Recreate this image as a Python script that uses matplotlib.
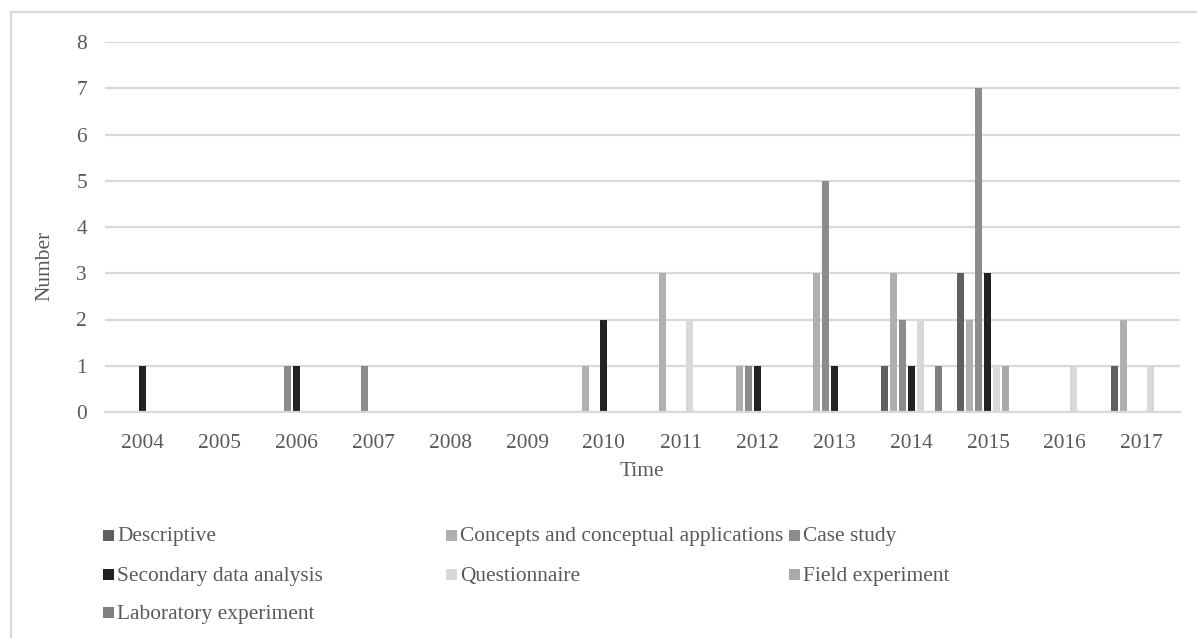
"""Grouped bar chart of study methods per year."""
import matplotlib.pyplot as plt
import numpy as np
from matplotlib.lines import Line2D
from matplotlib.patches import Rectangle

plt.rcParams["font.family"] = ["Liberation Serif", "DejaVu Serif"]

years = ["2004", "2005", "2006", "2007", "2008", "2009", "2010",
         "2011", "2012", "2013", "2014", "2015", "2016", "2017"]

descriptive = [0, 0, 0, 0, 0, 0, 0, 0, 0, 0, 1, 3, 0, 1]
concepts = [0, 0, 0, 0, 0, 0, 1, 3, 1, 3, 3, 2, 0, 2]
case_study = [0, 0, 1, 1, 0, 0, 0, 0, 1, 5, 2, 7, 0, 0]
secondary = [1, 0, 1, 0, 0, 0, 2, 0, 1, 1, 1, 3, 0, 0]
questionnaire = [0, 0, 0, 0, 0, 0, 0, 2, 0, 0, 2, 1, 1, 1]
field_exp = [0, 0, 0, 0, 0, 0, 0, 0, 0, 0, 0, 1, 0, 0]
lab_exp = [0, 0, 0, 0, 0, 0, 0, 0, 0, 0, 1, 0, 0, 0]

series_names = ["Descriptive", "Concepts and conceptual applications",
                "Case study", "Secondary data analysis", "Questionnaire",
                "Field experiment", "Laboratory experiment"]
series_values = [descriptive, concepts, case_study, secondary,
                 questionnaire, field_exp, lab_exp]
series_colors = ["#5f5f5f", "#b0b0b0", "#8c8c8c", "#222222",
                 "#d9d9d9", "#aaaaaa", "#808080"]

W, H = 1197, 638
fig = plt.figure(figsize=(W / 100, H / 100), dpi=100)
ax = fig.add_axes([104.5 / W, 1 - 412 / H, (1180 - 104.5) / W, (412 - 42) / H])

text_color = "#595959"
grid_color = "#d9d9d9"
fs = 15.4

x = np.arange(len(years))
pitch = 9 / 76.8
bar_w = 7 / 76.8
for i, (vals, col) in enumerate(zip(series_values, series_colors)):
    ax.bar(x + (i - 3) * pitch, vals, width=bar_w, color=col, zorder=3)

ax.set_xlim(-0.5, len(years) - 0.5)
ax.set_ylim(0, 8)
ax.set_yticks(range(0, 9))
ax.set_xticks(x)
ax.set_xticklabels(years)
ax.yaxis.grid(True, color=grid_color, linewidth=1.6, zorder=0)
ax.set_axisbelow(True)
for side in ["top", "right", "left"]:
    ax.spines[side].set_visible(False)
ax.spines["bottom"].set_color(grid_color)
ax.spines["bottom"].set_linewidth(1.6)
ax.spines["bottom"].set_zorder(4)
ax.tick_params(axis="both", length=0, labelsize=fs, labelcolor=text_color)
ax.tick_params(axis="x", pad=15.5)
ax.tick_params(axis="y", pad=12.6)

ax.set_xlabel("Time", fontsize=fs, color=text_color)
ax.xaxis.set_label_coords(0.5, -(472 - 412) / 370, transform=ax.transAxes)
ax.xaxis.label.set_va("center")
ax.set_ylabel("Number", fontsize=fs, color=text_color)
ax.yaxis.set_label_coords((45 - 104.5) / (1180 - 104.5), (412 - 266) / 370,
                          transform=ax.transAxes)
ax.yaxis.label.set_va("center")

# legend laid out row by row, three columns
col_x = [103, 446, 789]
row_y = [535, 574, 612]
for k, (name, col) in enumerate(zip(series_names, series_colors)):
    r, c = divmod(k, 3)
    mx, my = col_x[c], row_y[r]
    fig.add_artist(Rectangle((mx / W, 1 - (my + 5.5) / H), 11 / W, 11 / H,
                             transform=fig.transFigure, facecolor=col,
                             edgecolor="none"))
    fig.text((mx + 14) / W, 1 - (my + 2) / H, name, fontsize=fs,
             color=text_color, va="center", ha="left")

# chart area border (top and left edges)
fig.add_artist(Line2D([11 / W, 1], [1 - 12 / H, 1 - 12 / H],
                      transform=fig.transFigure, color=grid_color, lw=1.6))
fig.add_artist(Line2D([11 / W, 11 / W], [0, 1 - 12 / H],
                      transform=fig.transFigure, color=grid_color, lw=1.6))

fig.savefig("out.png", dpi=100, facecolor="white")
